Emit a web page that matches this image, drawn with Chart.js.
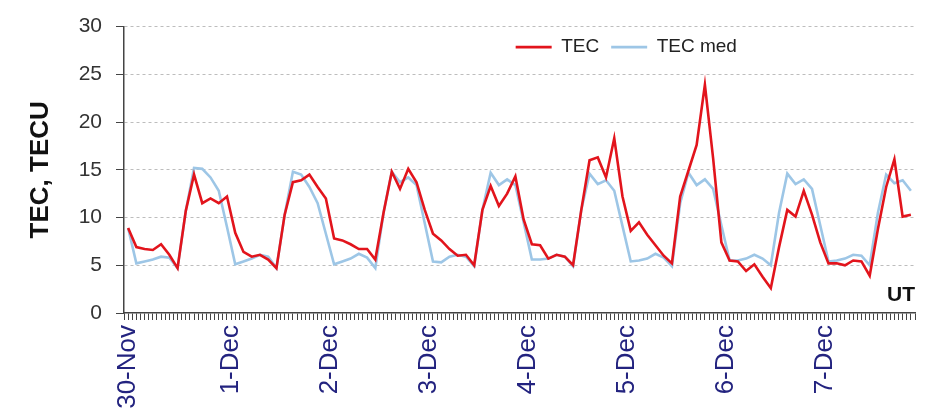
<!DOCTYPE html>
<html>
<head>
<meta charset="utf-8">
<script src="https://cdn.jsdelivr.net/npm/chart.js@4/dist/chart.umd.min.js"></script>
<style>
  html, body { margin: 0; padding: 0; background: #fff; }
  #wrap { width: 935px; height: 416px; position: relative; }
</style>
</head>
<body>
<div id="wrap"><canvas id="c" width="935" height="416"></canvas></div>
<script>
// ---- data (2-hourly values, UT hours 1,3,5,... from 30-Nov 00 UT) ----
const dayLabels = ['30-Nov', '1-Dec', '2-Dec', '3-Dec', '4-Dec', '5-Dec', '6-Dec', '7-Dec'];
const tec = [
  8.9, 6.9, 6.7, 6.6, 7.2, 6.1, 4.7, 10.7, 14.5, 11.5, 12.0, 11.5,
  12.2, 8.4, 6.4, 5.9, 6.1, 5.6, 4.7, 10.3, 13.7, 13.9, 14.5, 13.2,
  12.0, 7.8, 7.6, 7.2, 6.7, 6.7, 5.6, 10.5, 14.8, 13.0, 15.1, 13.7,
  10.8, 8.3, 7.6, 6.7, 6.0, 6.1, 5.0, 10.8, 13.3, 11.2, 12.5, 14.3,
  9.8, 7.2, 7.1, 5.7, 6.1, 5.9, 5.0, 10.8, 16.0, 16.3, 14.2, 18.3,
  12.2, 8.6, 9.5, 8.2, 7.1, 6.0, 5.2, 12.2, 14.9, 17.6, 23.9, 16.2,
  7.4, 5.5, 5.4, 4.4, 5.1, 3.8, 2.6, 6.9, 10.8, 10.1, 12.8, 10.3,
  7.4, 5.2, 5.2, 5.0, 5.5, 5.4, 3.9, 8.8, 13.2, 16.1, 10.1, 10.3
];
const tecMed = [
  8.9, 5.2, 5.4, 5.6, 5.9, 5.8, 4.7, 10.7, 15.2, 15.1, 14.2, 12.8,
  9.0, 5.1, 5.4, 5.7, 6.1, 5.9, 4.7, 10.3, 14.8, 14.5, 13.2, 11.5,
  8.3, 5.1, 5.4, 5.7, 6.2, 5.8, 4.7, 10.5, 14.8, 13.7, 14.2, 13.4,
  9.4, 5.4, 5.3, 5.9, 6.1, 5.9, 4.9, 10.8, 14.7, 13.4, 14.0, 13.4,
  9.5, 5.6, 5.6, 5.7, 6.1, 5.9, 4.9, 10.8, 14.6, 13.5, 13.9, 12.8,
  9.1, 5.4, 5.5, 5.7, 6.2, 5.8, 4.9, 11.5, 14.7, 13.4, 14.0, 13.0,
  9.2, 5.5, 5.5, 5.7, 6.1, 5.7, 5.0, 10.5, 14.6, 13.5, 14.0, 13.0,
  9.2, 5.4, 5.5, 5.7, 6.1, 6.0, 5.0, 10.5, 14.5, 13.6, 13.9, 12.8
];
const yTicks = [0, 5, 10, 15, 20, 25, 30];

// ---- build ----
const hours = tec.map((_, i) => 2 * i + 1);
const totalHours = dayLabels.length * 24;
const labelAt = {};
dayLabels.forEach((d, i) => { labelAt[i === 0 ? 1 : i * 24 + 2] = d; });

const FONT = "'Liberation Sans', Arial, sans-serif";

// legend sits inside the plot area, right of centre
const legendInside = {
  id: 'legendInside',
  afterLayout(chart) {
    const lg = chart.legend, ca = chart.chartArea;
    if (!lg) return;
    const target = ca.left + (ca.right - ca.left) * 0.635;
    const dx = target - (lg.left + lg.right) / 2;
    lg.left += dx; lg.right += dx;
    lg.height = 50; lg.bottom = lg.top + 50;
  }
};

new Chart(document.getElementById('c'), {
  type: 'line',
  data: {
    datasets: [
      {
        label: 'TEC',
        data: hours.map((h, i) => ({ x: h, y: tec[i] })),
        borderColor: '#E2141C',
        backgroundColor: '#E2141C',
        borderWidth: 2.6,
        pointRadius: 0,
        tension: 0
      },
      {
        label: 'TEC med',
        data: hours.map((h, i) => ({ x: h, y: tecMed[i] })),
        borderColor: '#9DC6E6',
        backgroundColor: '#9DC6E6',
        borderWidth: 2.6,
        pointRadius: 0,
        tension: 0
      }
    ]
  },
  options: {
    responsive: false,
    animation: false,
    devicePixelRatio: 1,
    layout: { padding: { left: 0, right: 20, top: 17, bottom: 0 } },
    plugins: {
      legend: {
        position: 'top',
        align: 'center',
        maxHeight: 1,
        labels: {
          usePointStyle: true,
          pointStyle: 'line',
          pointStyleWidth: 36,
          boxHeight: 10,
          padding: 12,
          color: '#222',
          font: { family: FONT, size: 19 }
        }
      },
      tooltip: { enabled: false }
    },
    scales: {
      x: {
        type: 'linear',
        min: 0,
        max: totalHours,
        afterBuildTicks: (scale) => {
          const t = [];
          for (let h = 0; h <= totalHours; h++) t.push({ value: h });
          scale.ticks = t;
        },
        afterFit: (scale) => { scale.height = 103; scale.paddingLeft = 0; scale.paddingRight = 0; },
        ticks: {
          autoSkip: false,
          minRotation: 90,
          maxRotation: 90,
          padding: 5,
          color: '#23237F',
          font: { family: FONT, size: 26 },
          callback: (v) => labelAt[v] || ''
        },
        grid: {
          display: true,
          drawOnChartArea: false,
          drawTicks: true,
          tickLength: 7,
          tickColor: '#444',
          tickWidth: 1
        },
        border: { display: true, color: '#444', width: 1.5 },
        title: {
          display: true,
          text: 'UT',
          align: 'end',
          color: '#111',
          font: { family: FONT, size: 21, weight: 'bold' },
          padding: { top: 0, bottom: 108 }
        }
      },
      y: {
        min: 0,
        max: 30,
        afterBuildTicks: (scale) => { scale.ticks = yTicks.map(v => ({ value: v })); },
        afterFit: (scale) => { scale.width = 124; },
        ticks: {
          padding: 14,
          color: '#333',
          font: { family: FONT, size: 21 }
        },
        grid: {
          color: (ctx) => (ctx.tick && ctx.tick.value === 0) ? 'rgba(0,0,0,0)' : '#bdbdbd',
          lineWidth: 1,
          drawTicks: true,
          tickLength: 8,
          tickColor: '#444'
        },
        border: { display: true, color: '#444', width: 1.5, dash: [3, 3] },
        title: {
          display: true,
          text: 'TEC, TECU',
          color: '#111',
          font: { family: FONT, size: 26, weight: 'bold' },
          padding: { top: 25, bottom: 0 }
        }
      }
    }
  },
  plugins: [legendInside]
});
</script>
</body>
</html>
